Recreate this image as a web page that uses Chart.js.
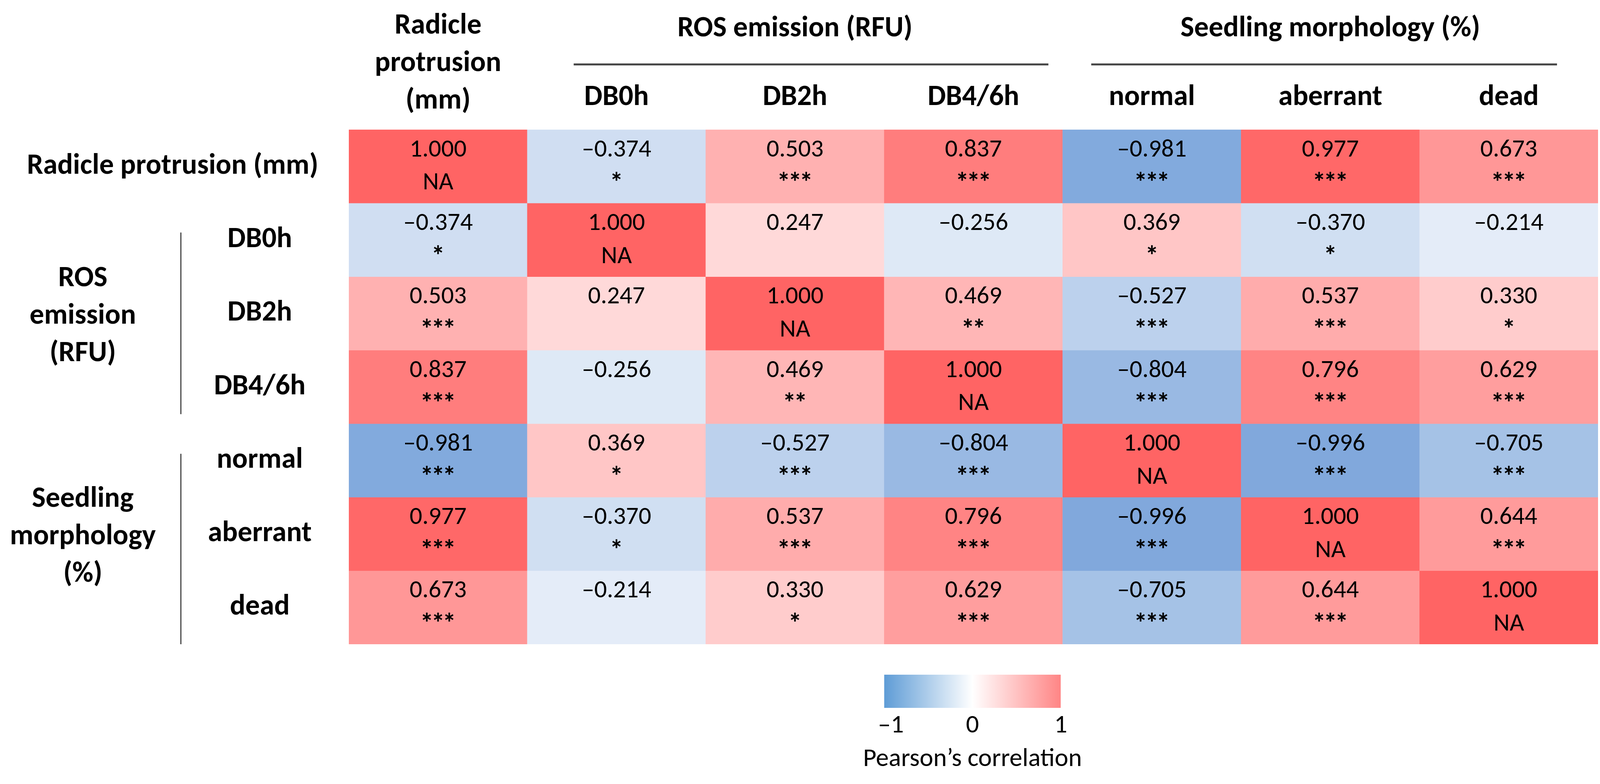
<!DOCTYPE html>
<html>
<head>
<meta charset="utf-8">
<title>Pearson correlation heatmap</title>
<script src="https://cdn.jsdelivr.net/npm/chart.js@4.4.1/dist/chart.umd.min.js"></script>
<style>
  html, body { margin: 0; padding: 0; background: #fff; }
  #wrap { width: 4135px; height: 2008px; position: relative; }
</style>
</head>
<body>
<div id="wrap"><canvas id="heatmap"></canvas></div>
<script>
// ======= Data =======
const varLabels = ['Radicle protrusion (mm)', 'DB0h', 'DB2h', 'DB4/6h', 'normal', 'aberrant', 'dead'];

// correlation coefficients, one array per row
const radicleRow  = [1.000, -0.374, 0.503, 0.837, -0.981, 0.977, 0.673];
const db0hRow     = [-0.374, 1.000, 0.247, -0.256, 0.369, -0.370, -0.214];
const db2hRow     = [0.503, 0.247, 1.000, 0.469, -0.527, 0.537, 0.330];
const db46hRow    = [0.837, -0.256, 0.469, 1.000, -0.804, 0.796, 0.629];
const normalRow   = [-0.981, 0.369, -0.527, -0.804, 1.000, -0.996, -0.705];
const aberrantRow = [0.977, -0.370, 0.537, 0.796, -0.996, 1.000, 0.644];
const deadRow     = [0.673, -0.214, 0.330, 0.629, -0.705, 0.644, 1.000];

// significance marks
const radicleSig  = ['NA', '*', '***', '***', '***', '***', '***'];
const db0hSig     = ['*', 'NA', '', '', '*', '*', ''];
const db2hSig     = ['***', '', 'NA', '**', '***', '***', '*'];
const db46hSig    = ['***', '', '**', 'NA', '***', '***', '***'];
const normalSig   = ['***', '*', '***', '***', 'NA', '***', '***'];
const aberrantSig = ['***', '*', '***', '***', '***', 'NA', '***'];
const deadSig     = ['***', '', '*', '***', '***', '***', 'NA'];

const colorbarTicks = [-1, 0, 1];

const rows = [radicleRow, db0hRow, db2hRow, db46hRow, normalRow, aberrantRow, deadRow];
const sigs = [radicleSig, db0hSig, db2hSig, db46hSig, normalSig, aberrantSig, deadSig];

// ======= Helpers =======
const FONT = 'Carlito, Lato, "Open Sans", sans-serif';
const POS = [255, 100, 100];
const NEG = [128, 168, 220];

function cellColor(v) {
    const end = v >= 0 ? POS : NEG;
    const t = Math.min(1, Math.abs(v));
    const c = end.map(e => Math.round(255 + (e - 255) * t));
    return `rgb(${c[0]}, ${c[1]}, ${c[2]})`;
}

function fmt(v) {
    return v.toFixed(3).replace('-', '\u2013');
}

// ======= Annotation plugin =======
const annotations = {
    id: 'annotations',
    afterDatasetsDraw(chart) {
        const { ctx, chartArea, scales } = chart;
        const xs = scales.x, ys = scales.y;
        const colW = xs.getPixelForValue(1) - xs.getPixelForValue(0);
        const rowH = Math.abs(ys.getPixelForValue(1) - ys.getPixelForValue(0));

        ctx.save();
        ctx.textAlign = 'center';
        ctx.textBaseline = 'middle';
        ctx.fillStyle = '#000';

        // cell texts
        chart.data.datasets.forEach((ds, r) => {
            chart.getDatasetMeta(r).data.forEach((bar, c) => {
                const cy = (bar.y + bar.base) / 2;
                ctx.font = `64px ${FONT}`;
                ctx.fillText(fmt(rows[r][c]), bar.x, cy - rowH * 0.22);
                const s = sigs[r][c];
                if (s === 'NA') {
                    ctx.fillText(s, bar.x, cy + rowH * 0.23);
                } else if (s) {
                    ctx.font = `bold 70px ${FONT}`;
                    ctx.letterSpacing = '-6px';
                    ctx.fillText(s, bar.x - 3, cy + rowH * 0.25);
                    ctx.letterSpacing = '0px';
                }
            });
        });

        const top = chartArea.top, left = chartArea.left;
        ctx.font = `bold 74px ${FONT}`;

        // column headers
        varLabels.forEach((lab, i) => {
            const x = xs.getPixelForValue(i);
            if (i === 0) {
                ['Radicle', 'protrusion', '(mm)'].forEach((t, k) => ctx.fillText(t, x, top - 265 + k * 96));
            } else {
                ctx.fillText(lab, x, top - 82);
            }
        });

        // column group titles with rules
        ctx.strokeStyle = '#444';
        ctx.lineWidth = 5;
        const groupCols = [
            { text: 'ROS emission (RFU)', from: 1, to: 3, a: 0.26, b: 0.08 },
            { text: 'Seedling morphology (%)', from: 4, to: 6, a: 0.16, b: 0.23 }
        ];
        groupCols.forEach(g => {
            const x0 = xs.getPixelForValue(g.from) - colW / 2;
            const x1 = xs.getPixelForValue(g.to) + colW / 2;
            ctx.fillText(g.text, (x0 + x1) / 2, top - 258);
            ctx.beginPath();
            ctx.moveTo(x0 + colW * g.a, top - 167);
            ctx.lineTo(x1 - colW * g.b, top - 167);
            ctx.stroke();
        });

        // row labels
        varLabels.forEach((lab, i) => {
            const y = (ys.getPixelForValue(i) + ys.getPixelForValue(i + 1)) / 2;
            if (i === 0) ctx.fillText(lab, left - 451, y);
            else ctx.fillText(lab, left - 228, y);
        });

        // row group titles with vertical rules
        ctx.lineWidth = 3;
        const groupRows = [
            { lines: ['ROS', 'emission', '(RFU)'], from: 1, to: 4, a: 0.40, b: 0.13 },
            { lines: ['Seedling', 'morphology', '(%)'], from: 4, to: 7, a: 0.41, b: 0 }
        ];
        groupRows.forEach(g => {
            const y0 = ys.getPixelForValue(g.from);
            const y1 = ys.getPixelForValue(g.to);
            const mid = (y0 + y1) / 2 + 8;
            g.lines.forEach((t, k) => ctx.fillText(t, left - 681, mid + (k - 1) * 96));
            ctx.beginPath();
            ctx.moveTo(left - 430, y0 + rowH * g.a);
            ctx.lineTo(left - 430, y1 - rowH * g.b);
            ctx.stroke();
        });

        // colour bar under the DB4/6h column
        const cbX0 = xs.getPixelForValue(3) - colW / 2;
        const cbX1 = xs.getPixelForValue(3) + colW / 2 - 5;
        const cbY0 = chartArea.bottom + 78;
        const cbH = 85;
        const grad = ctx.createLinearGradient(cbX0, 0, cbX1, 0);
        grad.addColorStop(0, 'rgb(94, 156, 214)');
        grad.addColorStop(0.5, '#ffffff');
        grad.addColorStop(1, 'rgb(255, 133, 133)');
        ctx.fillStyle = grad;
        ctx.fillRect(cbX0, cbY0, cbX1 - cbX0, cbH);

        ctx.fillStyle = '#000';
        ctx.font = `66px ${FONT}`;
        colorbarTicks.forEach(t => {
            const x = cbX0 + (t + 1) / 2 * (cbX1 - cbX0);
            ctx.fillText(String(t).replace('-', '\u2013'), x + (t < 0 ? 17 : 0), cbY0 + cbH + 46);
        });
        ctx.fillText('Pearson\u2019s correlation', (cbX0 + cbX1) / 2, cbY0 + cbH + 132);

        ctx.restore();
    }
};

// ======= Chart =======
const datasets = rows.map((vals, r) => ({
    label: varLabels[r],
    data: vals.map(() => [r, r + 1]),
    backgroundColor: ctx => cellColor(rows[ctx.datasetIndex][ctx.dataIndex]),
    borderWidth: 0,
    barPercentage: 1,
    categoryPercentage: 1,
    grouped: false
}));

new Chart(document.getElementById('heatmap'), {
    type: 'bar',
    data: { labels: varLabels, datasets },
    options: {
        responsive: true,
        maintainAspectRatio: false,
        devicePixelRatio: 1,
        animation: false,
        layout: { padding: { left: 893, right: 44, top: 332, bottom: 358 } },
        plugins: { legend: { display: false }, tooltip: { enabled: false } },
        scales: {
            x: { type: 'category', display: false, offset: true },
            y: { type: 'linear', display: false, min: 0, max: 7, reverse: true }
        }
    },
    plugins: [annotations]
});
</script>
</body>
</html>
